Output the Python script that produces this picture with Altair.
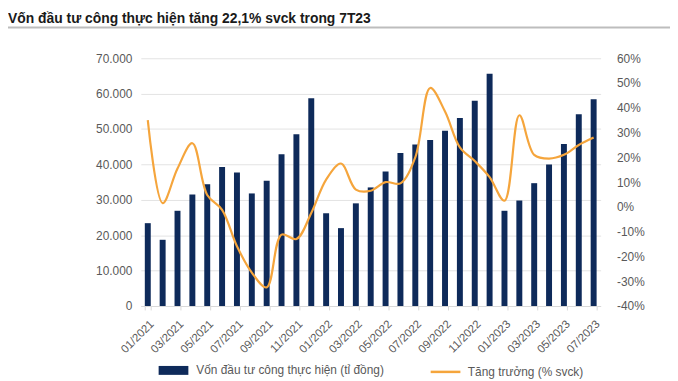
import altair as alt
import pandas as pd

months = [
    "01/2021", "02/2021", "03/2021", "04/2021", "05/2021", "06/2021",
    "07/2021", "08/2021", "09/2021", "10/2021", "11/2021", "12/2021",
    "01/2022", "02/2022", "03/2022", "04/2022", "05/2022", "06/2022",
    "07/2022", "08/2022", "09/2022", "10/2022", "11/2022", "12/2022",
    "01/2023", "02/2023", "03/2023", "04/2023", "05/2023", "06/2023",
    "07/2023",
]
capital = [
    23400, 18700, 26900, 31500, 34400, 39300, 37700, 31800, 35400, 42900, 48500, 58700,
    26200, 22000, 29000, 33500, 38000, 43200, 45600, 46900, 49500, 53100, 58000, 65600,
    26900, 29800, 34700, 40000, 45800, 54200, 58400,
]
growth = [
    35, 1.5, 15.5, 25.7, 4.8, -1.2, -15.9, -26.5, -32.5, -11.2, -13, -2.5,
    11, 17.5, 7, 6.5, 10, 9.5, 20, 48, 38.5, 24, 18.5, 12,
    2.5, 37, 21, 19.5, 21, 25, 28,
]
x_labels = months[::2]
left_ticks = [0, 10000, 20000, 30000, 40000, 50000, 60000, 70000]
right_ticks = [-40, -30, -20, -10, 0, 10, 20, 30, 40, 50, 60]

bar_name = "Vốn đầu tư công thực hiện (tỉ đồng)"
line_name = "Tăng trưởng (% svck)"
title_text = "Vốn đầu tư công thực hiện tăng 22,1% svck trong 7T23"

NAVY = "#0E2A5A"
ORANGE = "#F5A53C"
GREY = "#595959"
FONT = "Liberation Sans"

df = pd.DataFrame({
    "month": months,
    "capital": capital,
    "growth": growth,
    "bar_series": bar_name,
    "line_series": line_name,
})

x_enc = alt.X(
    "month:N", sort=months,
    scale=alt.Scale(paddingInner=0.6, paddingOuter=0.27),
    axis=alt.Axis(
        values=x_labels, labelAngle=-45, labelAlign="right", labelBaseline="top",
        labelFontSize=11.5, labelColor=GREY, labelFont=FONT, labelPadding=8,
        domainColor="#D9D9D9", tickColor="#D9D9D9", tickSize=4, tickBand="extent",
        title=None,
    ),
)

bars = alt.Chart(df).mark_bar().encode(
    x=x_enc,
    y=alt.Y(
        "capital:Q",
        scale=alt.Scale(domain=[0, 70000], nice=False),
        axis=alt.Axis(
            values=left_ticks,
            labelExpr="replace(format(datum.value, ','), ',', '.')",
            grid=True, gridColor="#E3E3E3", domain=False, ticks=False,
            labelFontSize=12, labelColor=GREY, labelFont=FONT, labelPadding=9,
            title=None,
        ),
    ),
    color=alt.Color(
        "bar_series:N",
        scale=alt.Scale(domain=[bar_name], range=[NAVY]),
        legend=alt.Legend(
            title=None, orient="none", legendX=18, legendY=300,
            symbolType="M-1,-0.3H1V0.3H-1Z", symbolSize=900,
            symbolStrokeWidth=0, labelFontSize=12, labelColor=GREY, labelFont=FONT,
            labelOffset=8, labelLimit=400,
        ),
    ),
)

line = alt.Chart(df).mark_line(interpolate="catmull-rom", strokeWidth=2.2).encode(
    x=x_enc,
    y=alt.Y(
        "growth:Q",
        scale=alt.Scale(domain=[-40, 60], nice=False),
        axis=alt.Axis(
            orient="right", values=right_ticks,
            labelExpr="datum.value + '%'",
            grid=False, domain=False, ticks=False,
            labelFontSize=12, labelColor=GREY, labelFont=FONT, labelPadding=16,
            title=None,
        ),
    ),
    color=alt.Color(
        "line_series:N",
        scale=alt.Scale(domain=[line_name], range=[ORANGE]),
        legend=alt.Legend(
            title=None, orient="none", legendX=291, legendY=300,
            symbolType="stroke", symbolSize=900, symbolStrokeWidth=2.5,
            labelFontSize=12, labelColor=GREY, labelFont=FONT, labelOffset=6,
            labelLimit=400,
        ),
    ),
)

title_df = pd.DataFrame({"t": [title_text]})
title_mark = alt.Chart(title_df).mark_text(
    align="left", baseline="alphabetic", fontSize=14, fontWeight="bold",
    font=FONT, color="#1A1A1A",
).encode(text="t:N", x=alt.value(-134), y=alt.value(-36))

sep = alt.Chart(title_df).mark_rule(color="#BDBDBD", strokeWidth=2).encode(
    x=alt.value(-134), x2=alt.value(540), y=alt.value(-31)
)

chart = alt.layer(bars, line, title_mark, sep).resolve_scale(
    y="independent", color="independent"
).properties(
    width=464, height=250,
    autosize=alt.AutoSizeParams(type="none"),
    padding={"left": 134, "top": 49, "right": 70, "bottom": 74},
    background="white",
).configure_view(stroke=None)

chart.save("out.html", embed_options={"renderer": "svg", "actions": False})
